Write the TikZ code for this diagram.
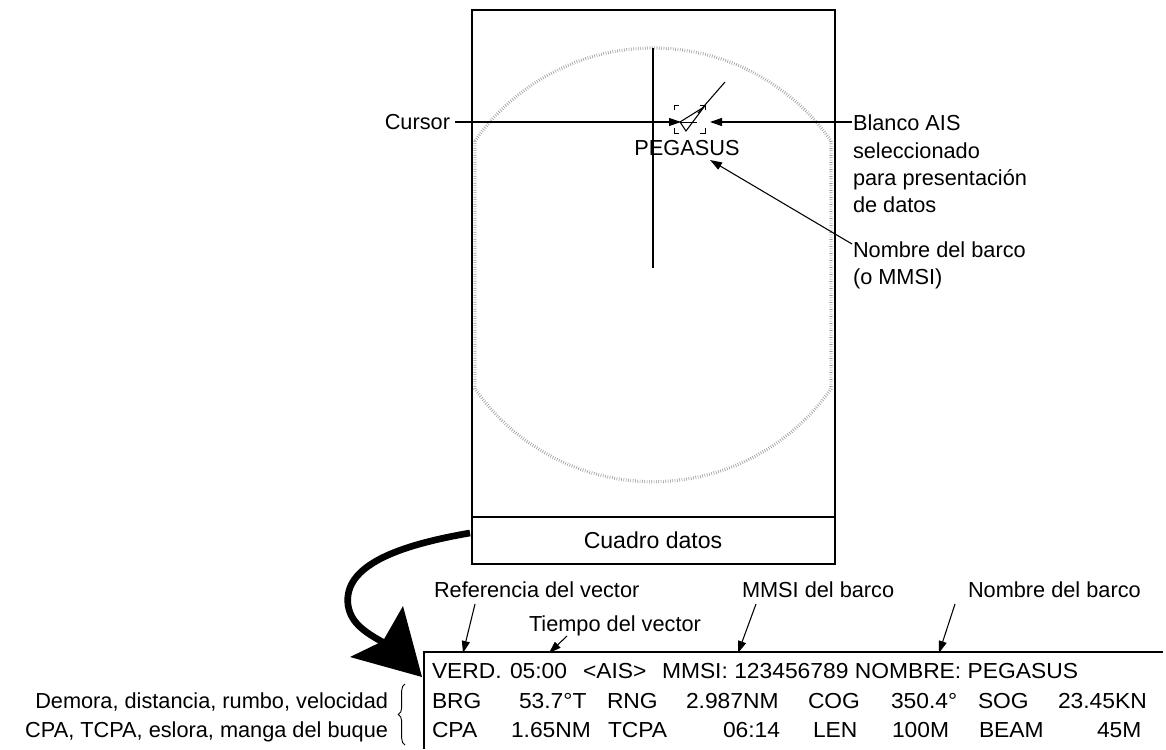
\documentclass[tikz,border=0pt]{standalone}
\usepackage{fontspec}
\setmainfont{Liberation Sans}
\newfontfamily\dfont[FakeStretch=1.05]{Liberation Sans}
\usetikzlibrary{arrows.meta,decorations.pathreplacing}
\begin{document}
\begin{tikzpicture}[x=0.75pt,y=-0.75pt,
  every node/.style={inner sep=0pt, outer sep=0pt},
  lbl/.style={font=\fontsize{16.3}{20}\selectfont, anchor=base west},
  dat/.style={font=\dfont\fontsize{16.3}{19}\selectfont, anchor=base west},
  arr/.style={line width=0.8pt, -{Triangle[length=9pt,width=6pt]}},
  frame/.style={line width=1pt},
  ring/.style={draw=black!40, line width=2.4pt, dash pattern=on 0.45pt off 1.3pt},
  thin line/.style={line width=0.8pt},
  bigarrow/.style={line width=5pt}]
\useasboundingbox (0,0) rectangle (1166,749);

% screen box
\draw[frame] (472,10) rectangle (835,564);
\draw[frame] (472,517) -- (835,517);
\node[lbl, anchor=base, font=\fontsize{17.3}{20}\selectfont] (cuadro) at (653,548) {Cuadro datos};

% range ring
\draw[ring] (653,265) ++(214.9:217) arc[start angle=214.9, end angle=325.1, radius=217]
   -- ++(0,248) arc[start angle=34.9, end angle=145.1, radius=217] -- cycle;

% cursor
\draw[thin line] (653,48) -- (653,268);
\node[lbl, anchor=base east] (cursorlbl) at (450,129) {Cursor};
\coordinate (cursorL) at (455,122);
\coordinate (tgtL) at (681,122);
\draw[arr] (cursorL) -- (tgtL);

% target symbol
\draw[line width=0.7pt] (674,110) -- (674,105) -- (679,105)
  (700,105) -- (705,105) -- (705,110)
  (674,128) -- (674,133) -- (679,133)
  (700,133) -- (705,133) -- (705,128);
\draw[line width=0.8pt] (680,122) -- (686,131) -- (704,107) -- cycle;
\draw[line width=0.8pt] (698,113) -- (725,82);
\draw[line width=0.7pt] (680,122) -- (697,122);
\node[lbl, anchor=base] (peg) at (687,155) {PEGASUS};

% right labels
\node[lbl] (blanco1) at (853,130) {Blanco AIS};
\node[lbl] (blanco2) at (853,158) {seleccionado};
\node[lbl] (blanco3) at (853,185) {para presentación};
\node[lbl] (blanco4) at (853,212) {de datos};
\coordinate (blancoL) at (852,122);
\coordinate (tgtR) at (710,122);
\draw[arr] (blancoL) -- (tgtR);

\node[lbl] (nombre1) at (853,257) {Nombre del barco};
\node[lbl] (nombre2) at (853,284) {(o MMSI)};
\coordinate (nombreL) at (852,244);
\coordinate (pegR) at (710,160);
\draw[arr] (nombreL) -- (pegR);

% big curved arrow
\coordinate (scrA) at (470,533);
\coordinate (datA) at (422,677);
\draw[bigarrow] (scrA) .. controls (400,545) and (343,565) .. (348,605)
   .. controls (351,624) and (366,633) .. (388,645);
\fill (datA) -- (350,657) -- (383,641) -- (403,606) -- cycle;

% data box
\draw[frame] (424,749) -- (424,652) -- (1163,652);

% labels above data box
\node[lbl] (ref) at (434,597) {Referencia del vector};
\node[lbl] (tiempo) at (529,631) {Tiempo del vector};
\node[lbl] (mmsi) at (742,597) {MMSI del barco};
\node[lbl] (nomb2) at (968,597) {Nombre del barco};
\coordinate (refS) at (475,604); \coordinate (refT) at (463,653);
\coordinate (tieS) at (567,636); \coordinate (tieT) at (549,653);
\coordinate (mmsS) at (756,604); \coordinate (mmsT) at (738,653);
\coordinate (nomS) at (955,604); \coordinate (nomT) at (939,653);
\draw[arr] (refS) -- (refT);
\draw[arr] (tieS) -- (tieT);
\draw[arr] (mmsS) -- (mmsT);
\draw[arr] (nomS) -- (nomT);

% data rows
\node[dat] (r1a) at (432,678) {VERD.};
\node[dat] (r1b) at (510,678) {05:00};
\node[dat] (r1c) at (583,678) {<AIS>};
\node[dat] (r1d) at (662,678) {MMSI: 123456789 NOMBRE: PEGASUS};

\node[dat] (r2a) at (432,708) {BRG};
\node[dat] (r2b) at (519,708) {53.7°T};
\node[dat] (r2c) at (607,708) {RNG};
\node[dat] (r2d) at (686,708) {2.987NM};
\node[dat] (r2e) at (808,708) {COG};
\node[dat] (r2f) at (891,708) {350.4°};
\node[dat] (r2g) at (978,708) {SOG};
\node[dat] (r2h) at (1058,708) {23.45KN};

\node[dat] (r3a) at (432,737) {CPA};
\node[dat] (r3b) at (511,737) {1.65NM};
\node[dat] (r3c) at (608,737) {TCPA};
\node[dat] (r3d) at (723,737) {06:14};
\node[dat] (r3e) at (813,737) {LEN};
\node[dat] (r3f) at (892,737) {100M};
\node[dat] (r3g) at (979,737) {BEAM};
\node[dat] (r3h) at (1097,737) {45M};

% left labels and brace
\node[lbl, anchor=base east] (dem) at (388,708) {Demora, distancia, rumbo, velocidad};
\node[lbl, anchor=base east] (cpa) at (388,737) {CPA, TCPA, eslora, manga del buque};
\coordinate (brB) at (405,745);
\coordinate (brT) at (405,684);
\draw[line width=0.7pt, decorate, decoration={brace, amplitude=5pt}] (brB) -- (brT);
\end{tikzpicture}
\end{document}
